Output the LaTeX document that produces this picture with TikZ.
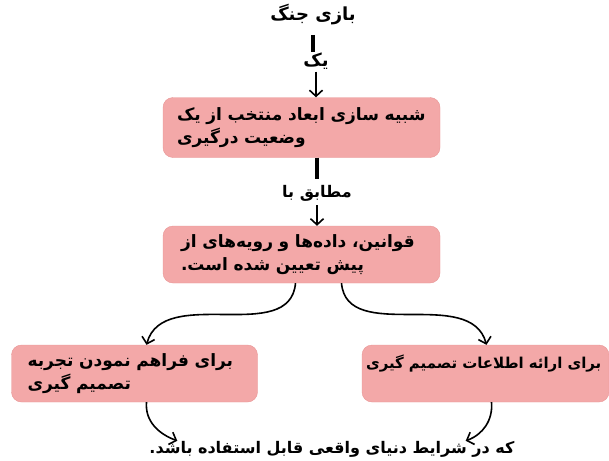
\documentclass[tikz,border=0pt]{standalone}
\usepackage{fontspec}
\newfontfamily\farsi[Script=Arabic]{DejaVu Sans}
\TeXXeTstate=1
\usetikzlibrary{arrows.meta}
\definecolor{boxpink}{RGB}{243,168,168}
\definecolor{boxedge}{RGB}{232,150,150}

\begin{document}
\begin{tikzpicture}[x=1pt,y=-1pt,
  stagebox/.style={draw=boxedge, fill=boxpink, rounded corners=10pt, align=left,
    inner xsep=20pt, inner ysep=4pt, font=\farsi\bfseries\fontsize{17}{23}\selectfont},
  steplabel/.style={font=\farsi\bfseries\fontsize{16}{18}\selectfont, inner sep=2pt},
  bar/.style={line width=3.6pt},
  arr/.style={line width=1.6pt, -{Straight Barb[length=6pt,width=13pt]}}]
\useasboundingbox (0,0) rectangle (609,460);

% Text Node
\node[steplabel, font=\farsi\bfseries\fontsize{18}{20}\selectfont] (war) at (313,15) {\beginR بازی جنگ\endR};
% Text Node
\node[steplabel, font=\farsi\bfseries\fontsize{18}{20}\selectfont] (one) at (316,61) {\beginR یک\endR};
% Shape: Rectangle
\node[stagebox, minimum width=277pt, minimum height=60pt, text width=249pt, inner xsep=14pt] (sim) at (301.5,127.5)
  {\mbox{\beginR شبیه سازی ابعاد منتخب از یک\endR}\\ \mbox{\beginR وضعیت درگیری\endR}};
% Text Node
\node[steplabel] (per) at (317,193) {\beginR مطابق با\endR};
% Shape: Rectangle
\node[stagebox, minimum width=277pt, minimum height=57pt, text width=241pt, inner xsep=18pt] (rules) at (301.5,254.5)
  {\mbox{\beginR قوانین، داده‌ها و رویه‌های از\endR}\\ \mbox{\beginR پیش تعیین شده است.\endR}};
% Shape: Rectangle
\node[stagebox, minimum width=246pt, minimum height=57pt, text width=214pt, inner xsep=16pt] (exper) at (134.5,373.5)
  {\mbox{\beginR برای فراهم نمودن تجربه\endR}\\ \mbox{\beginR تصمیم گیری\endR}};
% Shape: Rectangle
\node[stagebox, minimum width=247pt, minimum height=57pt, text width=239pt, inner xsep=4pt,
  font=\farsi\bfseries\fontsize{15}{23}\selectfont] (info) at (485.5,373.5)
  {\mbox{\beginR برای ارائه اطلاعات تصمیم گیری\endR}\\ \mbox{}};
% Text Node
\node[steplabel] (usage) at (332,449) {\beginR که در شرایط دنیای واقعی قابل استفاده باشد.\endR};

%Straight Lines
\draw[bar] (war) ++(0,20) coordinate (warfoot) -- ([yshift=-2pt]warfoot |- one.north);
\draw[arr] (one.south) -- (one.south |- sim.north);
\draw[bar] (per.north |- sim.south) -- ([yshift=4pt]per.north);
\draw[arr] ([yshift=-2pt]per.south) -- (per.south |- rules.north);

%Curve Lines
\draw[arr] ([xshift=-6pt]rules.south) to[out=265,in=75] ([xshift=12pt]exper.north);
\draw[arr] ([xshift=40pt]rules.south) to[out=-85,in=105] ([xshift=1pt]info.north);
\draw[arr] ([xshift=12pt]exper.south) to[out=-95,in=160] ([xshift=30pt,yshift=-2pt]usage.north west);
\draw[arr] ([xshift=6pt]info.south) to[out=-85,in=20] ([xshift=-51pt,yshift=-2pt]usage.north east);

\end{tikzpicture}
\end{document}
